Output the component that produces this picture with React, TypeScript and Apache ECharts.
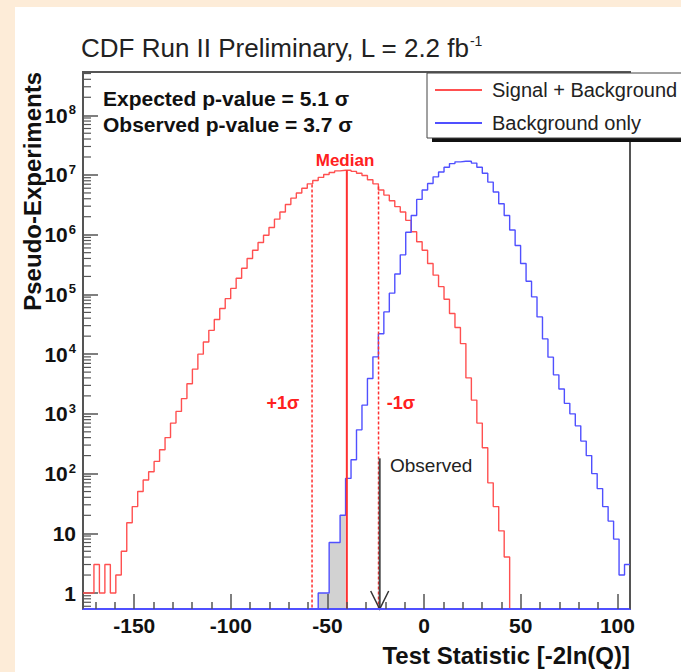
import React, { useEffect, useRef } from "react";
import * as echarts from "echarts";

const FONT = "'Liberation Sans', Arial, Helvetica, sans-serif";

// Histogram definition (100 bins)
const X_MIN = -176.5;
const X_MAX = 106.5;
const BIN_WIDTH = 2.83;
const Y_MIN = 0.54;
const Y_MAX = 5.3e8;

// Signal + Background pseudo-experiments per bin
const SIG_BKG = [
  1, 1, 3, 1, 3, 1, 2, 5, 15, 28,
  50, 78, 107, 160, 250, 400, 700, 1100, 1800, 3200,
  5600, 1.0e4, 1.6e4, 2.5e4, 3.8e4, 5.8e4, 8.5e4, 1.26e5, 1.86e5, 2.75e5,
  4.0e5, 5.5e5, 7.4e5, 9.8e5, 1.32e6, 1.82e6, 2.4e6, 3.2e6, 4.1e6, 5.0e6,
  6.0e6, 7.1e6, 8.1e6, 9.1e6, 1.02e7, 1.1e7, 1.17e7, 1.2e7, 1.2e7, 1.15e7,
  1.07e7, 9.8e6, 8.3e6, 7.1e6, 5.6e6, 4.6e6, 3.7e6, 2.95e6, 2.4e6, 1.74e6,
  1.12e6, 7.6e5, 5.5e5, 3.3e5, 2.1e5, 1.35e5, 8.3e4, 4.8e4, 2.8e4, 1.5e4,
  4000, 1700, 700, 270, 70, 28, 11, 4, 0, 0,
  0, 0, 0, 0, 0, 0, 0, 0, 0, 0,
  0, 0, 0, 0, 0, 0, 0, 0, 0, 0,
];

// Background-only pseudo-experiments per bin
const BKG_ONLY = [
  0, 0, 0, 0, 0, 0, 0, 0, 0, 0,
  0, 0, 0, 0, 0, 0, 0, 0, 0, 0,
  0, 0, 0, 0, 0, 0, 0, 0, 0, 0,
  0, 0, 0, 0, 0, 0, 0, 0, 0, 0,
  0, 0, 0, 1, 1, 7, 7, 20, 83, 170,
  540, 1400, 3900, 9000, 2.2e4, 5.1e4, 1.05e5, 2.2e5, 4.6e5, 1.1e6,
  2.1e6, 3.9e6, 5.6e6, 7.2e6, 9.3e6, 1.12e7, 1.35e7, 1.55e7, 1.66e7, 1.7e7,
  1.7e7, 1.58e7, 1.35e7, 1.07e7, 7.6e6, 5.2e6, 3.3e6, 2.1e6, 1.2e6, 6.6e5,
  3.3e5, 1.66e5, 9.1e4, 4.2e4, 1.8e4, 8900, 4500, 2600, 1500, 1000,
  630, 350, 200, 100, 56, 28, 16, 8, 2, 3,
];

// Indicator lines: [x, top of line, kind (0 solid, 1 dotted)]
const MEDIAN = -40;
const INDICATORS = [
  [MEDIAN, 1.2e7, 0],
  [-58, 6.9e6, 1],
  [-23.6, 6.4e6, 1],
];
const OBSERVED = [[-23, 180]];

const Y_MAJOR_LABELS: Record<number, string> = {
  0: "{b|1}",
  1: "{b|10}",
  2: "{b|10}{s|2}",
  3: "{b|10}{s|3}",
  4: "{b|10}{s|4}",
  5: "{b|10}{s|5}",
  6: "{b|10}{s|6}",
  7: "{b|10}{s|7}",
  8: "{b|10}{s|8}",
};
const MINOR_MULT = [2, 3, 4, 5, 6, 7, 8, 9];
const MINOR_DECADES = [-1, 0, 1, 2, 3, 4, 5, 6, 7, 8];

function stepData(values: number[], from = 0, to = values.length) {
  const pts: number[][] = [];
  for (let i = from; i < to; i++) {
    const v = values[i] > 0 ? values[i] : Y_MIN;
    pts.push([X_MIN + i * BIN_WIDTH, v], [X_MIN + (i + 1) * BIN_WIDTH, v]);
  }
  return pts;
}

function buildOption() {
  const minorTicks: number[][] = [];
  MINOR_DECADES.forEach((d) =>
    MINOR_MULT.forEach((m) => {
      const v = m * Math.pow(10, d);
      if (v > Y_MIN && v < Y_MAX) minorTicks.push([X_MIN, v]);
    })
  );
  const shadeFrom = BKG_ONLY.findIndex((v) => v > 0);
  const shadeTo = Math.floor((MEDIAN - X_MIN) / BIN_WIDTH);

  const RED = "#ff5050";
  const BLUE = "#5050ff";

  return {
    animation: false,
    backgroundColor: "#ffffff",
    textStyle: { fontFamily: FONT },
    title: {
      text: "{m|CDF Run II Preliminary, L = 2.2 fb}{s|-1}",
      left: 81,
      top: 34,
      padding: 0,
      textStyle: {
        fontWeight: "normal",
        rich: {
          m: { fontSize: 26, fontWeight: "normal", fontFamily: FONT, color: "#222", lineHeight: 28 },
          s: { fontSize: 14, fontWeight: "normal", fontFamily: FONT, color: "#222", verticalAlign: "top", lineHeight: 14 },
        },
      },
    },
    legend: {
      left: 427,
      top: 73,
      orient: "vertical",
      backgroundColor: "#ffffff",
      borderColor: "#444",
      borderWidth: 1,
      borderRadius: 0,
      padding: [7, 20, 5, 8],
      itemGap: 13,
      itemWidth: 47,
      itemHeight: 2,
      icon: "rect",
      z: 4,
      textStyle: { fontSize: 20, color: "#222", fontFamily: FONT, padding: [0, 0, 0, 5] },
      data: ["Signal + Background", "Background only"],
    },
    grid: {
      left: 83,
      right: 51,
      top: 72,
      bottom: 63,
      show: true,
      borderColor: "#555",
      borderWidth: 2,
      backgroundColor: "transparent",
    },
    xAxis: {
      type: "value",
      min: X_MIN,
      max: X_MAX,
      splitNumber: 5,
      z: 6,
      axisLine: { show: true, onZero: false, lineStyle: { color: BLUE, width: 2 } },
      axisTick: { show: true, inside: true, length: 15, lineStyle: { color: "#555", width: 1.5 } },
      minorTick: { show: true, splitNumber: 5, length: 7, lineStyle: { color: "#555", width: 1.5 } },
      splitLine: { show: false },
      axisLabel: {
        margin: 6,
        fontSize: 21,
        fontWeight: "bold",
        color: "#111",
        fontFamily: FONT,
        showMinLabel: false,
        showMaxLabel: false,
      },
    },
    yAxis: {
      type: "log",
      logBase: 10,
      min: Y_MIN,
      max: Y_MAX,
      axisLine: { show: true, onZero: false, lineStyle: { color: "#555", width: 2 } },
      axisTick: { show: true, inside: true, length: 15, lineStyle: { color: "#555", width: 1.5 } },
      splitLine: { show: false },
      axisLabel: {
        margin: 7,
        showMinLabel: false,
        showMaxLabel: false,
        formatter: (v: number) => {
          const k = Math.round(Math.log10(v));
          if (Math.abs(Math.log10(v) - k) > 1e-6) return "";
          return Y_MAJOR_LABELS[k] ?? "";
        },
        rich: {
          b: { fontSize: 21, fontWeight: "bold", color: "#111", fontFamily: FONT, lineHeight: 24 },
          s: { fontSize: 13, fontWeight: "bold", color: "#111", fontFamily: FONT, verticalAlign: "top", lineHeight: 13, padding: [0, 0, 0, 1] },
        },
      },
    },
    series: [
      {
        name: "shade",
        type: "line",
        data: stepData(BKG_ONLY, shadeFrom, shadeTo),
        symbol: "none",
        lineStyle: { width: 0, opacity: 0 },
        areaStyle: { color: "#d2d2d2", opacity: 1, origin: "start" },
        z: 1,
        silent: true,
        clip: false,
      },
      {
        name: "Signal + Background",
        type: "line",
        data: stepData(SIG_BKG),
        symbol: "none",
        color: RED,
        lineStyle: { color: RED, width: 1.4 },
        z: 3,
        clip: false,
      },
      {
        name: "Background only",
        type: "line",
        data: stepData(BKG_ONLY),
        symbol: "none",
        color: BLUE,
        lineStyle: { color: BLUE, width: 1.4 },
        z: 3,
        clip: false,
      },
      {
        name: "indicators",
        type: "custom",
        data: INDICATORS,
        z: 4,
        silent: true,
        renderItem: (_p: any, api: any) => {
          const x = api.value(0);
          const top = api.coord([x, api.value(1)]);
          const bot = api.coord([x, Y_MIN]);
          const dotted = api.value(2) === 1;
          return {
            type: "line",
            shape: { x1: top[0], y1: top[1], x2: bot[0], y2: bot[1] },
            style: {
              stroke: "#ff3030",
              lineWidth: dotted ? 1.5 : 2,
              lineDash: dotted ? [3, 2] : null,
            },
          };
        },
      },
      {
        name: "observed",
        type: "custom",
        data: OBSERVED,
        z: 5,
        silent: true,
        renderItem: (_p: any, api: any) => {
          const x = api.value(0);
          const top = api.coord([x, api.value(1)]);
          const bot = api.coord([x, Y_MIN]);
          return {
            type: "group",
            children: [
              {
                type: "line",
                shape: { x1: top[0], y1: top[1], x2: bot[0], y2: bot[1] },
                style: { stroke: "#444", lineWidth: 2 },
              },
              {
                type: "polyline",
                shape: { points: [[bot[0] - 9, bot[1] - 18], [bot[0], bot[1]], [bot[0] + 9, bot[1] - 18]] },
                style: { stroke: "#333", lineWidth: 1.5, fill: null },
              },
            ],
          };
        },
      },
      {
        name: "minor",
        type: "custom",
        data: minorTicks,
        z: 5,
        silent: true,
        renderItem: (_p: any, api: any) => {
          const p = api.coord([api.value(0), api.value(1)]);
          return {
            type: "line",
            shape: { x1: p[0], y1: p[1], x2: p[0] + 8, y2: p[1] },
            style: { stroke: "#555", lineWidth: 1.2 },
          };
        },
      },
    ],
    graphic: [
      { type: "rect", z: 20, shape: { x: 0, y: 0, width: 15, height: 672 }, style: { fill: "#fdecd8" } },
      { type: "rect", z: 20, shape: { x: 0, y: 0, width: 681, height: 7 }, style: { fill: "#fdecd8" } },
      { type: "rect", z: 3, shape: { x: 432, y: 78, width: 400, height: 64 }, style: { fill: "#111" } },
      {
        type: "text", z: 10, x: 32, y: 72, rotation: Math.PI / 2,
        style: { text: "Pseudo-Experiments", fontSize: 24, fontWeight: "bold", fontFamily: FONT, fill: "#111", align: "right", verticalAlign: "middle" },
      },
      {
        type: "text", z: 10, x: 630, y: 655,
        style: { text: "Test Statistic [-2ln(Q)]", fontSize: 24, fontWeight: "bold", fontFamily: FONT, fill: "#111", align: "right", verticalAlign: "middle" },
      },
      {
        type: "text", z: 10, x: 103, y: 98,
        style: { text: "Expected p-value = 5.1 σ", fontSize: 21, fontWeight: "bold", fontFamily: FONT, fill: "#111", align: "left", verticalAlign: "middle" },
      },
      {
        type: "text", z: 10, x: 103, y: 124,
        style: { text: "Observed p-value = 3.7 σ", fontSize: 21, fontWeight: "bold", fontFamily: FONT, fill: "#111", align: "left", verticalAlign: "middle" },
      },
      {
        type: "text", z: 10, x: 345, y: 160,
        style: { text: "Median", fontSize: 17, fontWeight: "bold", fontFamily: FONT, fill: "#ff2020", align: "center", verticalAlign: "middle" },
      },
      {
        type: "text", z: 10, x: 283, y: 403,
        style: { text: "+1σ", fontSize: 18, fontWeight: "bold", fontFamily: FONT, fill: "#ff2020", align: "center", verticalAlign: "middle" },
      },
      {
        type: "text", z: 10, x: 401, y: 403,
        style: { text: "-1σ", fontSize: 18, fontWeight: "bold", fontFamily: FONT, fill: "#ff2020", align: "center", verticalAlign: "middle" },
      },
      {
        type: "text", z: 10, x: 390, y: 465,
        style: { text: "Observed", fontSize: 19, fontFamily: FONT, fill: "#222", align: "left", verticalAlign: "middle" },
      },
    ],
  };
}

export default function App() {
  const ref = useRef<HTMLDivElement>(null);
  useEffect(() => {
    const el = ref.current;
    if (!el) return;
    const chart = echarts.init(el, null, { renderer: "svg" });
    chart.setOption(buildOption() as any);
    return () => chart.dispose();
  }, []);
  return (
    <div style={{ position: "fixed", left: 0, top: 0, width: 681, height: 672 }}>
      <div ref={ref} style={{ width: 681, height: 672 }} />
    </div>
  );
}
